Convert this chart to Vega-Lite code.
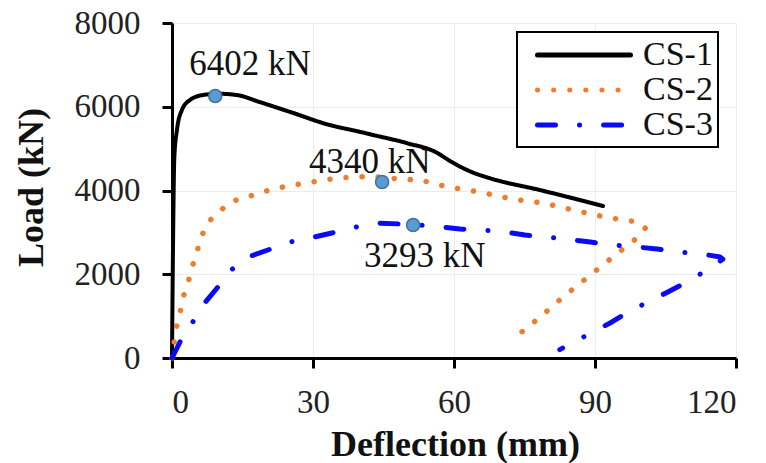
{
  "$schema": "https://vega.github.io/schema/vega-lite/v6.json",
  "width": 564,
  "height": 335,
  "autosize": {"type": "none"},
  "padding": {"left": 172, "top": 23, "right": 30, "bottom": 105},
  "background": "white",
  "config": {
    "view": {"stroke": null},
    "font": "Liberation Serif",
    "legend": {"strokeWidth": 2},
    "axis": {
      "domainColor": "black",
      "domainWidth": 3,
      "tickColor": "black",
      "tickWidth": 3,
      "tickSize": 10,
      "gridColor": "#ececec",
      "gridWidth": 1,
      "labelFont": "Liberation Serif",
      "labelFontSize": 33,
      "labelColor": "#222",
      "titleFont": "Liberation Serif",
      "titleFontWeight": "bold",
      "titleFontSize": 36,
      "titleColor": "#111"
    }
  },
  "datasets": {
    "curves": [
      {"series": "CS-1", "i": 1, "x": 0, "y": 0},
      {"series": "CS-1", "i": 2, "x": 0.2, "y": 2500},
      {"series": "CS-1", "i": 3, "x": 0.5, "y": 4800},
      {"series": "CS-1", "i": 4, "x": 1.06, "y": 5450},
      {"series": "CS-1", "i": 5, "x": 2.1, "y": 5920},
      {"series": "CS-1", "i": 6, "x": 3.8, "y": 6160},
      {"series": "CS-1", "i": 7, "x": 6.6, "y": 6280},
      {"series": "CS-1", "i": 8, "x": 10, "y": 6310},
      {"series": "CS-1", "i": 9, "x": 13.8, "y": 6280},
      {"series": "CS-1", "i": 10, "x": 18.7, "y": 6110},
      {"series": "CS-1", "i": 11, "x": 25.8, "y": 5850},
      {"series": "CS-1", "i": 12, "x": 33, "y": 5580},
      {"series": "CS-1", "i": 13, "x": 40, "y": 5400},
      {"series": "CS-1", "i": 14, "x": 42.8, "y": 5325},
      {"series": "CS-1", "i": 15, "x": 50, "y": 5130},
      {"series": "CS-1", "i": 16, "x": 56.4, "y": 4900},
      {"series": "CS-1", "i": 17, "x": 59.2, "y": 4700},
      {"series": "CS-1", "i": 18, "x": 64, "y": 4430},
      {"series": "CS-1", "i": 19, "x": 67.7, "y": 4290},
      {"series": "CS-1", "i": 20, "x": 78.3, "y": 4010},
      {"series": "CS-1", "i": 21, "x": 91.7, "y": 3630},

      {"series": "CS-2", "i": 1, "x": 0, "y": 0},
      {"series": "CS-2", "i": 2, "x": 0.85, "y": 693},
      {"series": "CS-2", "i": 3, "x": 1.7, "y": 1075},
      {"series": "CS-2", "i": 4, "x": 2.3, "y": 1433},
      {"series": "CS-2", "i": 5, "x": 3.4, "y": 1791},
      {"series": "CS-2", "i": 6, "x": 4.3, "y": 2173},
      {"series": "CS-2", "i": 7, "x": 5.3, "y": 2531},
      {"series": "CS-2", "i": 8, "x": 6.2, "y": 2889},
      {"series": "CS-2", "i": 9, "x": 7.7, "y": 3248},
      {"series": "CS-2", "i": 10, "x": 9.8, "y": 3463},
      {"series": "CS-2", "i": 11, "x": 12.3, "y": 3725},
      {"series": "CS-2", "i": 12, "x": 16, "y": 3845},
      {"series": "CS-2", "i": 13, "x": 19.2, "y": 3964},
      {"series": "CS-2", "i": 14, "x": 22.6, "y": 4060},
      {"series": "CS-2", "i": 15, "x": 25.7, "y": 4131},
      {"series": "CS-2", "i": 16, "x": 28.9, "y": 4179},
      {"series": "CS-2", "i": 17, "x": 32.1, "y": 4250},
      {"series": "CS-2", "i": 18, "x": 35.7, "y": 4300},
      {"series": "CS-2", "i": 19, "x": 40, "y": 4330},
      {"series": "CS-2", "i": 20, "x": 44, "y": 4320},
      {"series": "CS-2", "i": 21, "x": 48.9, "y": 4270},
      {"series": "CS-2", "i": 22, "x": 52.8, "y": 4250},
      {"series": "CS-2", "i": 23, "x": 58.7, "y": 4083},
      {"series": "CS-2", "i": 24, "x": 65.5, "y": 3964},
      {"series": "CS-2", "i": 25, "x": 72.3, "y": 3797},
      {"series": "CS-2", "i": 26, "x": 79, "y": 3701},
      {"series": "CS-2", "i": 27, "x": 85.3, "y": 3534},
      {"series": "CS-2", "i": 28, "x": 92.1, "y": 3367},
      {"series": "CS-2", "i": 29, "x": 99, "y": 3248},
      {"series": "CS-2", "i": 30, "x": 100.7, "y": 3104},
      {"series": "CS-2", "i": 31, "x": 99.2, "y": 2889},
      {"series": "CS-2", "i": 32, "x": 93.8, "y": 2412},
      {"series": "CS-2", "i": 33, "x": 88.5, "y": 1934},
      {"series": "CS-2", "i": 34, "x": 83.2, "y": 1457},
      {"series": "CS-2", "i": 35, "x": 78.1, "y": 955},
      {"series": "CS-2", "i": 36, "x": 72.8, "y": 478},

      {"series": "CS-3", "i": 1, "x": 0, "y": 0},
      {"series": "CS-3", "i": 2, "x": 1.7, "y": 382},
      {"series": "CS-3", "i": 3, "x": 4.3, "y": 836},
      {"series": "CS-3", "i": 4, "x": 6.6, "y": 1265},
      {"series": "CS-3", "i": 5, "x": 9.6, "y": 1672},
      {"series": "CS-3", "i": 6, "x": 12.3, "y": 2078},
      {"series": "CS-3", "i": 7, "x": 16.2, "y": 2412},
      {"series": "CS-3", "i": 8, "x": 20.4, "y": 2579},
      {"series": "CS-3", "i": 9, "x": 25.1, "y": 2770},
      {"series": "CS-3", "i": 10, "x": 29.4, "y": 2866},
      {"series": "CS-3", "i": 11, "x": 34, "y": 2985},
      {"series": "CS-3", "i": 12, "x": 40, "y": 3150},
      {"series": "CS-3", "i": 13, "x": 44.3, "y": 3220},
      {"series": "CS-3", "i": 14, "x": 51, "y": 3190},
      {"series": "CS-3", "i": 15, "x": 57, "y": 3130},
      {"series": "CS-3", "i": 16, "x": 61.3, "y": 3080},
      {"series": "CS-3", "i": 17, "x": 66.2, "y": 3056},
      {"series": "CS-3", "i": 18, "x": 70.9, "y": 3009},
      {"series": "CS-3", "i": 19, "x": 75.1, "y": 2937},
      {"series": "CS-3", "i": 20, "x": 80, "y": 2890},
      {"series": "CS-3", "i": 21, "x": 85.1, "y": 2818},
      {"series": "CS-3", "i": 22, "x": 89, "y": 2770},
      {"series": "CS-3", "i": 23, "x": 93.8, "y": 2698},
      {"series": "CS-3", "i": 24, "x": 99, "y": 2650},
      {"series": "CS-3", "i": 25, "x": 103.2, "y": 2603},
      {"series": "CS-3", "i": 26, "x": 107.7, "y": 2531},
      {"series": "CS-3", "i": 27, "x": 112.8, "y": 2483},
      {"series": "CS-3", "i": 28, "x": 116.6, "y": 2412},
      {"series": "CS-3", "i": 29, "x": 117.2, "y": 2360},
      {"series": "CS-3", "i": 30, "x": 113.8, "y": 2101},
      {"series": "CS-3", "i": 31, "x": 109.6, "y": 1815},
      {"series": "CS-3", "i": 32, "x": 105.5, "y": 1576},
      {"series": "CS-3", "i": 33, "x": 101.3, "y": 1337},
      {"series": "CS-3", "i": 34, "x": 97, "y": 1098},
      {"series": "CS-3", "i": 35, "x": 93.6, "y": 860},
      {"series": "CS-3", "i": 36, "x": 89.2, "y": 597},
      {"series": "CS-3", "i": 37, "x": 85.1, "y": 358},
      {"series": "CS-3", "i": 38, "x": 82.5, "y": 200}
    ],
    "peaks": [
      {"label": "6402 kN", "px": 9.2, "py": 6257, "tx": 16.6, "ty": 6758},
      {"label": "4340 kN", "px": 44.7, "py": 4203, "tx": 42.1, "ty": 4418},
      {"label": "3293 kN", "px": 51.3, "py": 3176, "tx": 53.8, "ty": 2173}
    ]
  },
  "encoding": {
    "x": {
      "field": "x", "type": "quantitative",
      "scale": {"domain": [0, 120], "nice": false, "zero": false},
      "axis": {"values": [0, 30, 60, 90, 120], "title": "Deflection (mm)", "labelPadding": 18,
               "titleX": 283, "titleY": 97, "titleBaseline": "alphabetic", "titleAlign": "center"}
    },
    "y": {
      "field": "y", "type": "quantitative",
      "scale": {"domain": [0, 8000], "nice": false},
      "axis": {"values": [0, 2000, 4000, 6000, 8000], "format": "d", "title": "Load (kN)", "labelPadding": 22,
               "titleX": -130, "titleY": 164, "titleAngle": -90, "titleBaseline": "alphabetic", "titleAlign": "center"}
    }
  },
  "layer": [
    {
      "data": {"name": "curves"},
      "transform": [{"filter": "datum.series === 'CS-1'"}],
      "mark": {"type": "line", "strokeWidth": 4, "strokeCap": "round", "strokeJoin": "round", "interpolate": "monotone"},
      "encoding": {
        "order": {"field": "i", "type": "quantitative"},
        "color": {
          "field": "series", "type": "nominal",
          "scale": {"domain": ["CS-1", "CS-2", "CS-3"], "range": ["#000000", "#ED7D31", "#0A0AF5"]},
          "legend": {
            "title": null,
            "orient": "none",
            "legendX": 345,
            "legendY": 9,
            "strokeColor": "black",
            "padding": 5,
            "symbolOffset": 44,
            "symbolType": "M-3,0H3",
            "symbolSize": 961,
            "symbolStrokeWidth": 5,
            "labelFont": "Liberation Serif",
            "labelFontSize": 34,
            "labelColor": "#111",
            "labelOffset": 41,
            "rowPadding": 0,
            "fillColor": "white",
            "encode": {"symbols": {"update": {"strokeCap": {"value": "round"}}}}
          }
        },
        "strokeDash": {
          "field": "series", "type": "nominal",
          "scale": {"domain": ["CS-1", "CS-2", "CS-3"], "range": [[1, 0], [0.1, 16], [18, 24, 0.1, 24]]},
          "legend": {"title": null}
        }
      }
    },
    {
      "data": {"name": "curves"},
      "transform": [{"filter": "datum.series === 'CS-2'"}],
      "mark": {"type": "line", "strokeWidth": 5.5, "strokeCap": "round", "strokeJoin": "round"},
      "encoding": {
        "order": {"field": "i", "type": "quantitative"},
        "color": {"field": "series", "type": "nominal"},
        "strokeDash": {"field": "series", "type": "nominal"}
      }
    },
    {
      "data": {"name": "curves"},
      "transform": [{"filter": "datum.series === 'CS-3'"}],
      "mark": {"type": "line", "strokeWidth": 5, "strokeCap": "round", "strokeJoin": "round"},
      "encoding": {
        "order": {"field": "i", "type": "quantitative"},
        "color": {"field": "series", "type": "nominal"},
        "strokeDash": {"field": "series", "type": "nominal"}
      }
    },
    {
      "data": {"name": "peaks"},
      "mark": {"type": "point", "filled": true, "size": 170, "fill": "#5B9BD5", "stroke": "#41719C", "strokeWidth": 1.5, "opacity": 1},
      "encoding": {
        "x": {"field": "px", "type": "quantitative"},
        "y": {"field": "py", "type": "quantitative"}
      }
    },
    {
      "data": {"name": "peaks"},
      "mark": {"type": "text", "font": "Liberation Serif", "fontSize": 35, "baseline": "alphabetic", "align": "center", "color": "#111"},
      "encoding": {
        "x": {"field": "tx", "type": "quantitative"},
        "y": {"field": "ty", "type": "quantitative"},
        "text": {"field": "label"}
      }
    }
  ]
}
